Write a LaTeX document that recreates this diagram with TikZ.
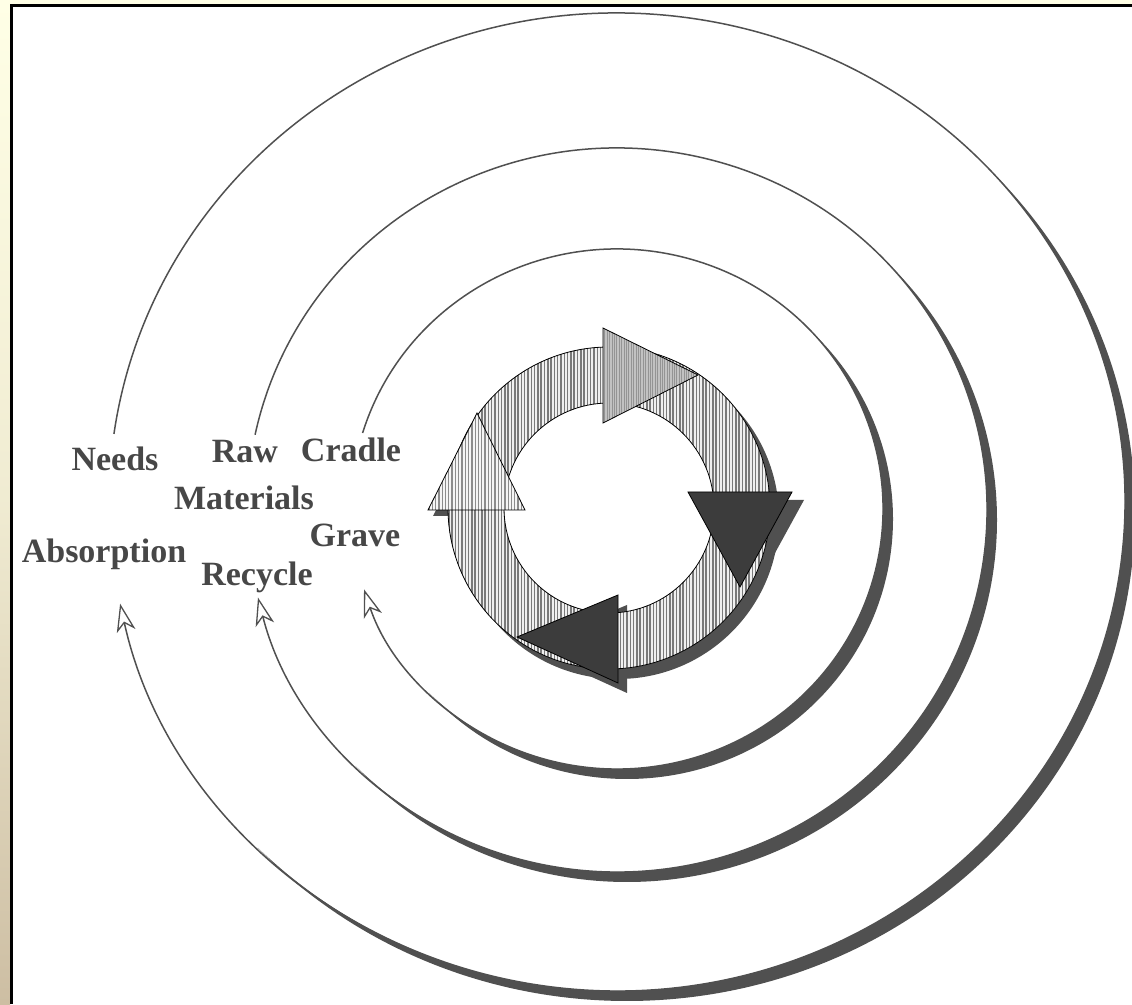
\documentclass[tikz,border=0pt]{standalone}
\usepackage{fontspec}
\setmainfont{Liberation Serif}
\usetikzlibrary{arrows.meta,patterns.meta,calc}
\definecolor{inkgray}{HTML}{505050}
\definecolor{labelgray}{HTML}{474747}
\definecolor{darkhead}{HTML}{3C3C3C}
\definecolor{cream}{HTML}{FFFFE6}
\definecolor{stripTan}{HTML}{CDBEA3}
\begin{document}
\begin{tikzpicture}[
  x=1pt, y=1pt,
  line join=miter,
  loopline/.style={draw=inkgray, line width=1.5pt,
    -{Stealth[open, fill=white, length=28pt, width=19pt, inset=8pt, line width=1.3pt]}},
  lbl/.style={inner sep=0pt, anchor=base, text=labelgray,
    font=\fontsize{34pt}{34pt}\selectfont\bfseries},
  band/.style={even odd rule, preaction={fill=black!6, even odd rule},
    pattern={Lines[angle=90, distance=3.3pt, line width=1.5pt]}, pattern color=black!52},
  headlight/.style={draw=black, line width=0.8pt, preaction={fill=black!24},
    pattern={Lines[angle=90, distance=2.4pt, line width=0.9pt]}, pattern color=black!42},
  headhatch/.style={draw=black, line width=0.8pt, preaction={fill=black!4},
    pattern={Lines[angle=90, distance=3.3pt, line width=1.3pt]}, pattern color=black!45},
  headdark/.style={draw=black, line width=0.8pt, fill=darkhead}
]
  \useasboundingbox (0,0) rectangle (1132,1004);
  % ---- page edge and frame ----
  \fill[white] (0,0) rectangle (1132,1004);
  \fill[cream] (0,1000) rectangle (1132,1004);
  \shade[top color=cream, bottom color=stripTan, middle color=cream!70!stripTan] (0,0) rectangle (10,1004);
  \draw[line width=3.5pt] (11.5,0) -- (11.5,998.5) -- (1132,998.5);

  % ---- centres of the three loops and the ring ----
  \coordinate (oc) at (617,502);
  \coordinate (mc) at (617,494);
  \coordinate (ic) at (617,495);
  \coordinate (O)  at (609,496);

  % ---- shadows of the loops (crescent on the lower right) ----
  \foreach \c/\rx/\ry in {oc/508/489, mc/370/362, ic/266/260}{
    \fill[inkgray] ([shift={(10,-10)}]\c) ++(45:\rx\space and \ry)
      arc[start angle=45, end angle=-135, x radius=\rx, y radius=\ry]
      -- ($(\c)+(-135:\rx\space and \ry)$)
      arc[start angle=-135, end angle=45, x radius=\rx, y radius=\ry] -- cycle;
  }

  % ---- labels ----
  \node[lbl] (needs)      at (115,533) {Needs};
  \node[lbl] (raw)        at (245,541) {Raw};
  \node[lbl] (cradle)     at (351,542) {Cradle};
  \node[lbl] (materials)  at (244,494) {Materials};
  \node[lbl] (grave)      at (355,457) {Grave};
  \node[lbl] (absorption) at (104,441) {Absorption};
  \node[lbl] (recycle)    at (257,418) {Recycle};

  % ---- loops: start above a label, end in an open arrow below ----
  \coordinate (needsStart)  at ($(oc)+(172:508 and 489)$);
  \coordinate (rawStart)    at ($(mc)+(168:370 and 362)$);
  \coordinate (cradleStart) at ($(ic)+(163:266 and 260)$);
  \draw[loopline] (needsStart)  arc[start angle=172, end angle=-168, x radius=508, y radius=489];
  \draw[loopline] (rawStart)    arc[start angle=168, end angle=-166, x radius=370, y radius=362];
  \draw[loopline] (cradleStart) arc[start angle=163, end angle=-162, x radius=266, y radius=260];

  % ---- ring shadow and arrowhead shadows ----
  \fill[inkgray, even odd rule] ([shift={(9,-10)}]O) circle (161) (O) circle (161);
  \fill[inkgray, shift={(12,-8)}] (688,512) -- (792,512) -- (740,417) -- cycle;
  \fill[inkgray, shift={(9,-10)}] (618,409) -- (618,321) -- (517,367) -- cycle;
  \begin{scope}
    \clip (420,480) rectangle (460,500);
    \fill[inkgray, shift={(5,-6)}] (428,494) -- (525,494) -- (477,591) -- cycle;
  \end{scope}

  % ---- hatched ring ----
  \path[band] (O) circle (161) (O) circle (105);
  \draw[line width=0.8pt] (O) circle (161) (O) circle (105);

  % ---- arrowheads on the ring (clockwise) ----
  \path[headlight] (603,676) -- (603,581) -- (698,629) -- cycle;
  \path[headdark]  (688,512) -- (792,512) -- (740,417) -- cycle;
  \path[headdark]  (618,409) -- (618,321) -- (517,367) -- cycle;
  \path[headhatch] (428,494) -- (525,494) -- (477,591) -- cycle;
\end{tikzpicture}
\end{document}
